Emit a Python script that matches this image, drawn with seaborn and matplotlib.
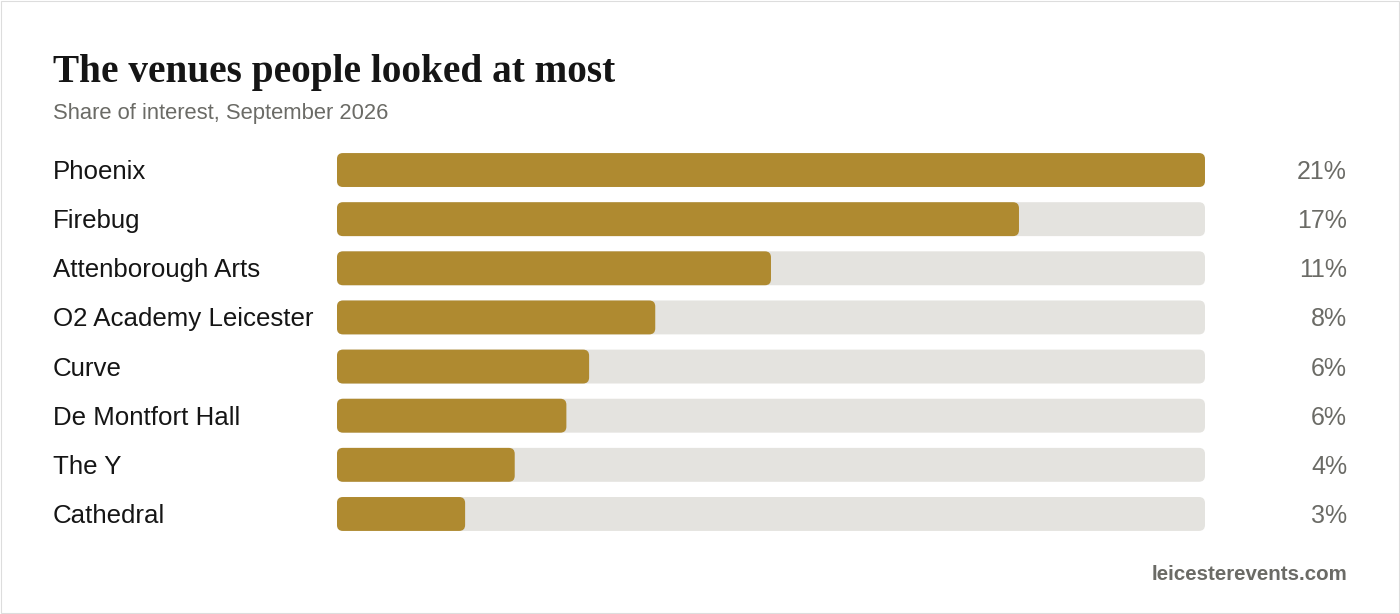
"""Horizontal bar chart: venues people looked at most."""
import matplotlib
matplotlib.use("Agg")
import matplotlib.pyplot as plt
import matplotlib.transforms as mtransforms
from matplotlib.patches import FancyBboxPatch, Rectangle
import pandas as pd
import seaborn as sns

venues = [
    "Phoenix",
    "Firebug",
    "Attenborough Arts",
    "O2 Academy Leicester",
    "Curve",
    "De Montfort Hall",
    "The Y",
    "Cathedral",
]
share_pct = [21.0, 16.5, 10.5, 7.7, 6.1, 5.55, 4.3, 3.1]
share_labels = ["21%", "17%", "11%", "8%", "6%", "6%", "4%", "3%"]

TITLE = "The venues people looked at most"
SUBTITLE = "Share of interest, September 2026"
SOURCE = "leicesterevents.com"

GOLD = "#AF8A30"
TRACK = "#E4E3DF"
GREY = "#6B6B66"
INK = "#151515"

sns.set_theme(style="white")
plt.rcParams["font.family"] = ["Liberation Sans", "DejaVu Sans"]

df = pd.DataFrame({"Venue": venues, "Share": share_pct})
df["Track"] = df["Share"].max()

fig = plt.figure(figsize=(14, 6.14), dpi=100)
fig.patch.set_facecolor("white")
ax = fig.add_axes([0.2407, 0.1229, 0.62, 0.6402])

sns.barplot(data=df, x="Track", y="Venue", color=TRACK, width=0.69, ax=ax,
            saturation=1, orient="h")
sns.barplot(data=df, x="Share", y="Venue", color=GOLD, width=0.69, ax=ax,
            saturation=1, orient="h")

xmax = df["Share"].max()
ax.set_xlim(0, xmax)
ax.set_ylim(len(venues) - 0.5, -0.5)

# swap square bars for rounded ones
px_x = xmax / 868.0
px_y = 1.0 / 49.1
for p in list(ax.patches):
    x, y = p.get_x(), p.get_y()
    w, h = p.get_width(), p.get_height()
    rounded = FancyBboxPatch(
        (x, y), w, h,
        boxstyle=f"round,pad=0,rounding_size={6 * px_x}",
        mutation_aspect=px_y / px_x,
        facecolor=p.get_facecolor(), edgecolor="none", zorder=p.get_zorder(),
    )
    p.remove()
    ax.add_patch(rounded)

ax.set_axis_off()

# labels sit on a baseline ~9px below the row centre
base_off = 9 * px_y
trans = mtransforms.blended_transform_factory(fig.transFigure, ax.transData)
for i, (name, lab) in enumerate(zip(venues, share_labels)):
    ax.text(53 / 1400, i + base_off, name, transform=trans, ha="left",
            va="baseline", fontsize=18.6, color=INK, clip_on=False)
    ax.text(1347 / 1400, i + base_off, lab, transform=trans, ha="right",
            va="baseline", fontsize=18, color=GREY, clip_on=False)

fig.text(53 / 1400, 1 - 82 / 614, TITLE, ha="left", va="baseline",
         fontsize=28.3, fontweight="bold", color=INK,
         family=["Liberation Serif", "DejaVu Serif"])
fig.text(53 / 1400, 1 - 119 / 614, SUBTITLE, ha="left", va="baseline",
         fontsize=15.8, color=GREY)
fig.text(1347 / 1400, 1 - 580 / 614, SOURCE, ha="right", va="baseline",
         fontsize=14.8, fontweight="bold", color=GREY)

fig.add_artist(Rectangle((1 / 1400, 1 / 614), 1 - 2 / 1400, 1 - 2 / 614,
                         transform=fig.transFigure, facecolor="none",
                         edgecolor="#DDDDDD", linewidth=0.8))

fig.savefig("out.png", dpi=100, facecolor="white")
plt.close(fig)
